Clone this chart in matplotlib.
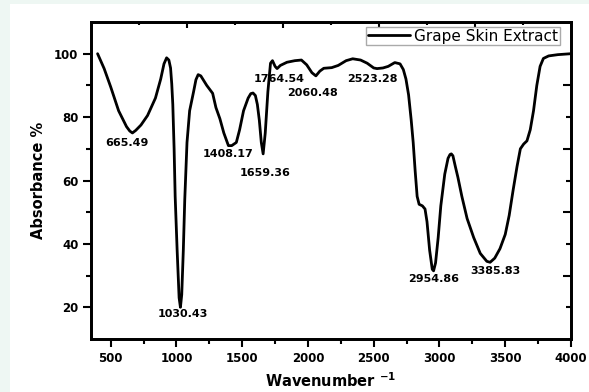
import matplotlib
matplotlib.use("Agg")
import matplotlib.pyplot as plt
from matplotlib.patches import Rectangle

# --- spectrum ---
wavenumber = [
    400, 450, 500, 560, 620, 645, 665, 690, 730, 780, 840, 880, 905, 925,
    942, 955, 964, 972, 982, 990, 1005, 1020, 1030, 1040, 1052, 1063, 1080,
    1100, 1130, 1148, 1165, 1185, 1230, 1275, 1300, 1330, 1360, 1395, 1420,
    1455, 1480, 1510, 1545, 1565, 1582, 1600, 1615, 1630, 1645, 1659, 1675,
    1695, 1715, 1730, 1750, 1765, 1790, 1840, 1900, 1950, 1990, 2030, 2060,
    2090, 2120, 2180, 2230, 2290, 2340, 2400, 2450, 2500, 2525, 2570, 2610,
    2660, 2700, 2725, 2745, 2765, 2785, 2800, 2815, 2830, 2845, 2870, 2890,
    2905, 2925, 2945, 2955, 2970, 2990, 3010, 3040, 3065, 3080, 3090, 3102,
    3120, 3140, 3170, 3210, 3260, 3310, 3360, 3385, 3420, 3460, 3500, 3530,
    3560, 3590, 3615, 3640, 3665, 3690, 3715, 3740, 3765, 3790, 3830, 3900,
    4000,
]
absorbance = [
    100, 95.3, 89.5, 82, 77, 75.6, 75, 75.8, 77.5, 80.5, 86, 92, 96.8, 98.7,
    98, 95.5, 90.5, 84, 70, 55, 38, 23, 20, 24, 38, 54, 72,
    82, 88, 91.8, 93.4, 93, 90, 87.5, 83, 79.5, 75, 71, 71,
    72, 76, 82, 86, 87.4, 87.6, 86.8, 84, 79, 72, 68.4, 75,
    88, 97, 97.8, 96, 95.3, 96.3, 97.3, 97.8, 98, 96.5, 94, 93,
    94.5, 95.4, 95.6, 96.3, 97.8, 98.4, 98, 97, 95.5, 95.3, 95.5, 96,
    97.2, 96.8, 95, 92, 87, 79, 72, 63, 55, 52.5, 52, 51,
    47, 38, 32, 31.5, 34, 42, 52, 62, 67, 68.2, 68.4, 67.8,
    64.5, 61, 55, 48, 42, 37, 34.5, 34.2, 35.5, 38.5, 43, 49,
    57, 64.5, 70, 71.5, 72.5, 76, 82, 90, 96, 98.5, 99.3, 99.7,
    100,
]

# peak labels and where their text sits (data coords)
peak_labels = ["665.49", "1030.43", "1408.17", "1659.36", "1764.54",
               "2060.48", "2523.28", "2954.86", "3385.83"]
label_x = [622, 1048, 1390, 1672, 1782, 2037, 2490, 2958, 3422]
label_y = [71.9, 17.8, 68.4, 62.5, 91.9, 87.5, 92.1, 28.8, 31.6]

bottom_ticks = [500, 1000, 1500, 2000, 2500, 3000, 3500, 4000]
left_ticks = [20, 40, 60, 80, 100]

fig = plt.figure(figsize=(5.89, 3.92), dpi=100)
fig.patch.set_facecolor("#eef7f3")
fig.patches.append(Rectangle((10 / 589, 0), 1, 1 - 4 / 392, transform=fig.transFigure,
                             facecolor="white", edgecolor="none", zorder=-10))

ax = fig.add_axes([91 / 589, 1 - 339 / 392, 480 / 589, 317 / 392])
ax.set_facecolor("none")

ax.plot(wavenumber, absorbance, color="black", linewidth=2.0,
        solid_joinstyle="round", solid_capstyle="round", label="Grape Skin Extract")

for txt, lx, ly in zip(peak_labels, label_x, label_y):
    ax.text(lx, ly, txt, ha="center", va="center", fontsize=8,
            fontweight="bold", family="DejaVu Sans")

ax.set_xlim(350, 4000)
ax.set_ylim(10, 110)
ax.set_xticks(bottom_ticks)
ax.set_xticks([750, 1250, 1750, 2250, 2750, 3250, 3750], minor=True)
ax.set_yticks(left_ticks)
ax.set_yticks([30, 50, 70, 90], minor=True)
ax.tick_params(which="major", direction="out", length=6, width=1.5,
               labelsize=8.5, pad=3)
ax.tick_params(which="minor", direction="out", length=3.5, width=1.5)
for lab in ax.get_xticklabels() + ax.get_yticklabels():
    lab.set_fontweight("bold")

for spine in ax.spines.values():
    spine.set_linewidth(1.8)

ax.set_xlabel(r"Wavenumber $^{\mathbf{-1}}$", fontsize=10.5, fontweight="bold",
              labelpad=5)
ax.set_ylabel("Absorbance %", fontsize=10.5, fontweight="bold", labelpad=6)

# --- top and right tick marks (unlabelled, inward) ---
top = ax.twiny()
top.set_xlim(0, 10)
top.set_xticks([2, 4, 6, 8])
top.set_xticks([1, 3, 5, 7, 9], minor=True)
top.tick_params(which="major", direction="in", length=4.5, width=1.5, labeltop=False)
top.tick_params(which="minor", direction="in", length=2.5, width=1.5)

right = ax.twinx()
right.set_ylim(10, 110)
right.set_yticks([30, 50, 70, 90])
right.set_yticks([20, 40, 60, 80], minor=True)
right.tick_params(which="major", direction="in", length=6, width=1.5, labelright=False)
right.tick_params(which="minor", direction="in", length=3.5, width=1.5)
for a in (top, right):
    for spine in a.spines.values():
        spine.set_linewidth(1.8)

leg = right.legend(*ax.get_legend_handles_labels(), loc="upper right",
                   bbox_to_anchor=(469 / 480, 1 - 5 / 317), borderaxespad=0,
                   fontsize=11, handlelength=2.75, handletextpad=0.3,
                   borderpad=0.1, fancybox=False, framealpha=1)
leg.get_frame().set_edgecolor("#aaaaaa")
leg.get_frame().set_linewidth(1.0)

fig.savefig("out.png", dpi=100)
